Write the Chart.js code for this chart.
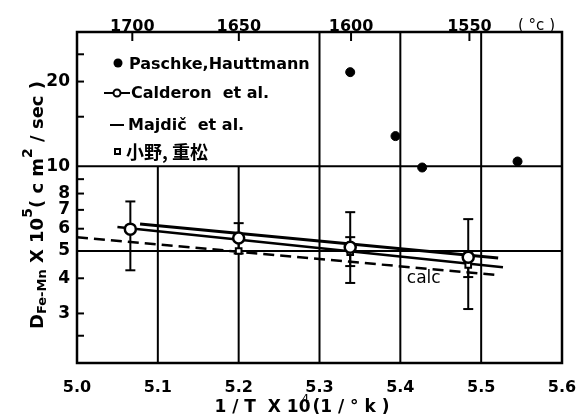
<!DOCTYPE html>
<html>
<head>
<meta charset="utf-8">
<script src="https://cdn.jsdelivr.net/npm/chart.js@4.4.0/dist/chart.umd.min.js"></script>
<style>
  body { margin: 0; background: #fff; }
  #wrap { width: 577px; height: 419px; }
</style>
</head>
<body>
<div id="wrap"><canvas id="c" width="577" height="419"></canvas></div>
<script>
// Paschke, Hauttmann (filled dots)
const paschkeX = [5.338, 5.394, 5.427, 5.545];
const paschkeY = [21.6, 12.8, 9.9, 10.4];

// Calderon et al. (open circles + error bars)
const calderonX = [5.066, 5.2, 5.338, 5.484];
const calderonY = [5.98, 5.56, 5.16, 4.75];
const calderonLo = [4.27, 4.9, 3.85, 3.11];
const calderonHi = [7.5, 6.28, 6.87, 6.49];

// 小野, 重松 (small open squares)
const onoX = [5.2, 5.338, 5.484];
const onoY = [5.0, 4.95, 4.46];
const onoLo = [null, 4.42, 4.04];
const onoHi = [null, 5.6, 4.9];

// lines
const calderonLineX = [5.05, 5.527];
const calderonLineY = [6.08, 4.38];
const majdicX = [5.078, 5.521];
const majdicY = [6.24, 4.72];
const calcX = [5.0, 5.523];
const calcY = [5.6, 4.1];

// axes
const xTicks = [5.0, 5.1, 5.2, 5.3, 5.4, 5.5, 5.6];
const topTemps = [1700, 1650, 1600, 1550];
const yTicks = [2, 2.5, 3, 4, 5, 6, 7, 8, 9, 10, 15, 20, 25, 30];
const yLabels = [3, 4, 5, 6, 7, 8, 10, 20];
const yMinor = [2.5, 3, 4, 6, 7, 8, 9, 15, 20, 25];

const pts = (xs, ys) => xs.map((v, i) => ({ x: v, y: ys[i] }));
const invT = t => 1e4 / (t + 273);
const FONT = '"DejaVu Sans", sans-serif';

function seg(ctx, x1, y1, x2, y2) {
  ctx.beginPath(); ctx.moveTo(x1, y1); ctx.lineTo(x2, y2); ctx.stroke();
}

function errBars(ctx, x, y, xs, lo, hi) {
  xs.forEach((v, i) => {
    if (lo[i] == null) return;
    const px = x.getPixelForValue(v);
    const p1 = y.getPixelForValue(lo[i]), p2 = y.getPixelForValue(hi[i]);
    seg(ctx, px, p1, px, p2);
    seg(ctx, px - 5, p1, px + 5, p1);
    seg(ctx, px - 5, p2, px + 5, p2);
  });
}

const frame = {
  id: 'frame',
  beforeDatasetsDraw(chart) {
    const { ctx, chartArea: a, scales: { x, y, x2 } } = chart;
    ctx.save();
    ctx.strokeStyle = '#000';
    ctx.lineWidth = 2.5;
    ctx.strokeRect(a.left, a.top, a.right - a.left, a.bottom - a.top);
    ctx.lineWidth = 2;
    [10, 5].forEach(v => { const py = y.getPixelForValue(v); seg(ctx, a.left, py, a.right, py); });
    const y10 = y.getPixelForValue(10);
    [5.1, 5.2].forEach(v => { const px = x.getPixelForValue(v); seg(ctx, px, y10, px, a.bottom); });
    [5.3, 5.4, 5.5].forEach(v => { const px = x.getPixelForValue(v); seg(ctx, px, a.top, px, a.bottom); });
    yMinor.forEach(v => { const py = y.getPixelForValue(v); seg(ctx, a.left, py, a.left + 7, py); });
    x2.ticks.forEach(t => { const px = x2.getPixelForValue(t.value); seg(ctx, px, a.top, px, a.top + 9); });
    errBars(ctx, x, y, calderonX, calderonLo, calderonHi);
    errBars(ctx, x, y, onoX, onoLo, onoHi);
    ctx.restore();
  },
  afterDraw(chart) {
    const { ctx, scales: { x, y } } = chart;
    ctx.save();
    ctx.fillStyle = '#000'; ctx.strokeStyle = '#000';
    ctx.textBaseline = 'middle'; ctx.textAlign = 'left';

    // legend
    ctx.font = 'bold 16px ' + FONT;
    ctx.beginPath(); ctx.arc(118, 63, 4.5, 0, Math.PI * 2); ctx.fill();
    ctx.fillText('Paschke,Hauttmann', 129, 65, 186);
    ctx.lineWidth = 2;
    seg(ctx, 104, 93, 130, 93);
    ctx.beginPath(); ctx.arc(117, 93, 3.5, 0, Math.PI * 2); ctx.fillStyle = '#fff'; ctx.fill(); ctx.stroke();
    ctx.fillStyle = '#000';
    ctx.fillText('Calderon  et al.', 131, 94, 150);
    seg(ctx, 110, 125, 124, 125);
    ctx.fillText('Majdič  et al.', 128, 126, 132);
    ctx.strokeRect(115, 149, 5, 5);
    ctx.font = 'bold 18px "Noto Sans CJK JP", sans-serif';
    ctx.fillText('小野, 重松', 126, 152);

    // calc label
    ctx.font = '17px ' + FONT;
    ctx.fillText('calc', x.getPixelForValue(5.408), y.getPixelForValue(4.0));

    // top unit
    ctx.font = '15px ' + FONT;
    ctx.fillText('( °c )', 518, 26);

    // x title
    const t1 = '1 / T  X 10', t2 = '(1 / ° k )';
    ctx.font = 'bold 17px ' + FONT;
    const w1 = ctx.measureText(t1).width, w2 = ctx.measureText(t2).width;
    const x0 = 303 - (w1 + w2 + 4) / 2;
    ctx.fillText(t1, x0, 408);
    ctx.fillText(t2, x0 + w1 + 2, 408);
    ctx.font = '12px ' + FONT;
    ctx.fillText('4', x0 + w1 - 9, 400);

    // y title (rotated, with sub/superscripts)
    const parts = [
      ['D', 18, 0], ['Fe-Mn', 13, 5], [' X 10', 18, 0], ['5', 14, -10],
      ['( c m', 18, 0], ['2', 14, -10], [' / sec )', 18, 0]
    ];
    let total = 0;
    parts.forEach(p => { ctx.font = 'bold ' + p[1] + 'px ' + FONT; total += ctx.measureText(p[0]).width; });
    ctx.translate(38, 205);
    ctx.rotate(-Math.PI / 2);
    let cx = -total / 2;
    parts.forEach(p => {
      ctx.font = 'bold ' + p[1] + 'px ' + FONT;
      ctx.fillText(p[0], cx, p[2]);
      cx += ctx.measureText(p[0]).width;
    });
    ctx.restore();
  }
};

const noPad = s => { s.paddingLeft = 0; s.paddingRight = 0; };

new Chart(document.getElementById('c'), {
  type: 'scatter',
  data: {
    datasets: [
      { label: 'Paschke,Hauttmann', data: pts(paschkeX, paschkeY), pointStyle: 'circle',
        pointRadius: 4.5, backgroundColor: '#000', borderColor: '#000' },
      { label: 'Calderon et al.', data: pts(calderonX, calderonY), pointStyle: 'circle',
        pointRadius: 5.5, backgroundColor: '#fff', borderColor: '#000', borderWidth: 2.5 },
      { label: '小野, 重松', data: pts(onoX, onoY), pointStyle: 'rect',
        pointRadius: 4, backgroundColor: '#fff', borderColor: '#000', borderWidth: 2 },
      { label: 'Calderon line', data: pts(calderonLineX, calderonLineY), showLine: true,
        pointRadius: 0, borderColor: '#000', borderWidth: 2.5 },
      { label: 'Majdič et al.', data: pts(majdicX, majdicY), showLine: true,
        pointRadius: 0, borderColor: '#000', borderWidth: 3 },
      { label: 'calc', data: pts(calcX, calcY), showLine: true, pointRadius: 0,
        borderColor: '#000', borderWidth: 2.5, borderDash: [11, 6] }
    ]
  },
  options: {
    responsive: false,
    animation: false,
    layout: { padding: { left: 0, right: 15, top: 0, bottom: 0 } },
    plugins: { legend: { display: false }, tooltip: { enabled: false } },
    scales: {
      x: {
        type: 'linear', position: 'bottom', min: 5.0, max: 5.6,
        afterBuildTicks: s => { s.ticks = xTicks.map(v => ({ value: v })); },
        afterFit: s => { s.height = 56; noPad(s); },
        grid: { display: false, drawTicks: false }, border: { display: false },
        ticks: { autoSkip: false, padding: 15, color: '#000',
          font: { family: FONT, size: 16, weight: 'bold' },
          callback: v => v.toFixed(1) }
      },
      x2: {
        type: 'linear', position: 'top', min: 5.0, max: 5.6,
        afterBuildTicks: s => { s.ticks = topTemps.map(t => ({ value: invT(t) })); },
        afterFit: s => { s.height = 32; noPad(s); },
        grid: { display: false, drawTicks: false }, border: { display: false },
        ticks: { autoSkip: false, padding: -4, color: '#000',
          font: { family: FONT, size: 16, weight: 'bold' },
          callback: (v, i) => String(topTemps[i]) }
      },
      y: {
        type: 'logarithmic', min: 2, max: 30,
        afterBuildTicks: s => { s.ticks = yTicks.map(v => ({ value: v })); },
        afterFit: s => { s.width = 77; },
        grid: { display: false, drawTicks: false }, border: { display: false },
        ticks: { autoSkip: false, padding: 7, color: '#000',
          font: { family: FONT, size: 17, weight: 'bold' },
          callback: v => yLabels.includes(v) ? String(v) : '' }
      }
    }
  },
  plugins: [frame]
});
</script>
</body>
</html>
